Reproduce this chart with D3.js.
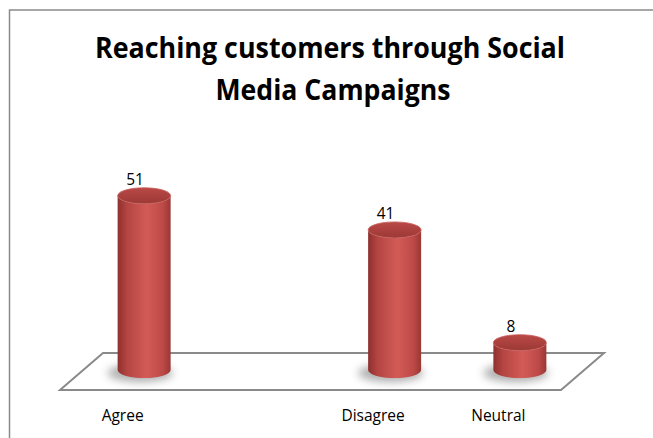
<!DOCTYPE html>
<html lang="en">
<head>
  <meta charset="UTF-8">
  <title>Reaching customers through Social Media Campaigns</title>
  <style>
    body { margin: 0; background: #fff; }
    svg { display: block; font-family: "Open Sans", "Liberation Sans", sans-serif; }
  </style>
</head>
<body>
  <script src="https://d3js.org/d3.v7.min.js"></script>
  <script>
    // data (the empty category is the gap between Agree and Disagree)
    const categories = ["Agree", "", "Disagree", "Neutral"]
    const values = [51, null, 41, 8]
    const titleLines = ["Reaching customers through Social", "Media Campaigns"]

    const width = 653
    const height = 438

    const svg = d3.select('body').append('svg')
      .attr('width', width)
      .attr('height', height)

    const defs = svg.append('defs')

    // cylinder side shading
    const sideGrad = defs.append('linearGradient').attr('id', 'side')
      .attr('x1', '0%').attr('x2', '100%').attr('y1', '0%').attr('y2', '0%')
    sideGrad.append('stop').attr('offset', '0%').attr('stop-color', '#8e302e')
    sideGrad.append('stop').attr('offset', '18%').attr('stop-color', '#b44542')
    sideGrad.append('stop').attr('offset', '55%').attr('stop-color', '#d35b57')
    sideGrad.append('stop').attr('offset', '85%').attr('stop-color', '#bd4a47')
    sideGrad.append('stop').attr('offset', '100%').attr('stop-color', '#9a3735')

    const topGrad = defs.append('linearGradient').attr('id', 'topcap')
      .attr('x1', '0%').attr('x2', '0%').attr('y1', '0%').attr('y2', '100%')
    topGrad.append('stop').attr('offset', '0%').attr('stop-color', '#b94946')
    topGrad.append('stop').attr('offset', '100%').attr('stop-color', '#9c3936')

    defs.append('filter').attr('id', 'blur')
      .attr('x', '-50%').attr('y', '-100%').attr('width', '200%').attr('height', '300%')
      .append('feGaussianBlur').attr('stdDeviation', 4)

    // chart area border (only top and left edges show in the crop)
    svg.append('rect')
      .attr('x', 9.5).attr('y', 10)
      .attr('width', 700).attr('height', 500)
      .attr('fill', 'none')
      .attr('stroke', '#8a8a8a')
      .attr('stroke-width', 1.5)

    // title, squeezed to the narrow look of the original
    const title = svg.append('g')
      .attr('font-weight', 'bold')
      .attr('text-anchor', 'middle')
      .attr('font-size', 28)
      .attr('fill', '#000')
    title.append('text').attr('x', 330).attr('y', 58)
      .attr('textLength', 470).attr('lengthAdjust', 'spacingAndGlyphs')
      .text(titleLines[0])
    title.append('text').attr('x', 333).attr('y', 100)
      .attr('textLength', 235).attr('lengthAdjust', 'spacingAndGlyphs')
      .text(titleLines[1])

    // floor: front edge and depth offset
    const front = [60, 561]
    const depth = { dx: 43, dy: 37 }
    const frontY = 390
    const backY = frontY - depth.dy
    const baseY = frontY - depth.dy / 2 - 1.5

    const xFront = d3.scaleBand().domain(categories).range(front)
    const xMid = d3.scaleBand().domain(categories)
      .range([front[0] + depth.dx / 2, front[1] + depth.dx / 2])
    const y = d3.scaleLinear().domain([0, 60]).range([baseY, baseY - 205])

    svg.append('path')
      .attr('d', `M${front[0]},${frontY} L${front[0] + depth.dx},${backY} L${front[1] + depth.dx},${backY} L${front[1]},${frontY} Z`)
      .attr('fill', '#fff')
      .attr('stroke', '#8a8a8a')
      .attr('stroke-width', 2)

    const data = categories.map((c, i) => ({ c, v: values[i] })).filter(d => d.v != null)

    const rx = 26.5
    const ry = 8

    // soft shadows under the bars
    svg.append('g').selectAll('ellipse')
      .data(data)
      .join('ellipse')
      .attr('cx', d => xMid(d.c) + xMid.bandwidth() / 2 - 4)
      .attr('cy', baseY + 3)
      .attr('rx', rx + 6)
      .attr('ry', ry + 1)
      .attr('fill', '#6a6a6a')
      .attr('opacity', 0.55)
      .attr('filter', 'url(#blur)')

    const bars = svg.append('g').selectAll('g')
      .data(data)
      .join('g')

    bars.append('path')
      .attr('d', d => {
        const cx = xMid(d.c) + xMid.bandwidth() / 2
        const ty = y(d.v)
        return `M${cx - rx},${ty} L${cx - rx},${baseY} A${rx},${ry} 0 0 0 ${cx + rx},${baseY} L${cx + rx},${ty} A${rx},${ry} 0 0 1 ${cx - rx},${ty} Z`
      })
      .attr('fill', 'url(#side)')

    bars.append('ellipse')
      .attr('cx', d => xMid(d.c) + xMid.bandwidth() / 2)
      .attr('cy', d => y(d.v))
      .attr('rx', rx)
      .attr('ry', ry)
      .attr('fill', 'url(#topcap)')
      .attr('stroke', '#c9615d')
      .attr('stroke-width', 0.8)

    // value labels
    bars.append('text')
      .attr('x', d => xMid(d.c) + xMid.bandwidth() / 2 - 9)
      .attr('y', d => y(d.v) - ry - 3)
      .attr('text-anchor', 'middle')
      .attr('font-size', 15.5)
      .attr('fill', '#000')
      .text(d => d.v)

    // category labels along the front edge of the floor
    svg.append('g').selectAll('text')
      .data(categories.filter(c => c !== ''))
      .join('text')
      .attr('x', d => xFront(d) + xFront.bandwidth() / 2)
      .attr('y', 421)
      .attr('text-anchor', 'middle')
      .attr('font-size', 15.5)
      .attr('fill', '#000')
      .text(d => d)
  </script>
</body>
</html>
